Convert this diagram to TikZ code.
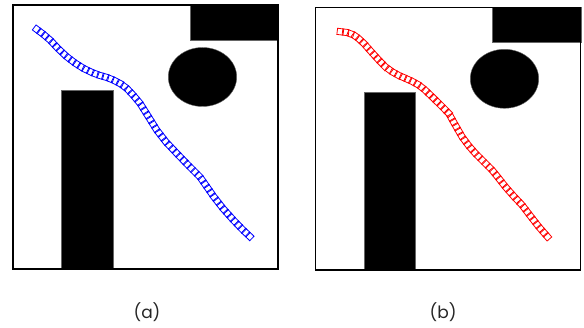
\documentclass[tikz,border=0pt]{standalone}
\usepackage{fontspec}
\setmainfont{Poppins}
\usetikzlibrary{decorations.markings}
\tikzset{
  frame/.style={draw=black, line width=1.4pt},
  obst/.style={fill=black, draw=black!60, line width=0.4pt},
  sqb/.style={draw=blue, line width=0.8pt, minimum size=6.2pt, inner sep=0pt, transform shape},
  sqr/.style={draw=red, line width=0.8pt, minimum size=6.2pt, inner sep=0pt, transform shape},
  chainb/.style={decoration={markings, mark=between positions 0 and 1 step 5.3pt with {\node[sqb] {};}}, decorate},
  chainr/.style={decoration={markings, mark=between positions 0 and 1 step 5.3pt with {\node[sqr] {};}}, decorate},
  lbl/.style={font=\fontsize{17pt}{20pt}\selectfont, text=black!85}
}
\begin{document}
\begin{tikzpicture}[x=1pt, y=-1pt]
\useasboundingbox (0,0) rectangle (584,328);
% panel (a)
\draw[obst] (190,5) rectangle (278,40);
\draw[obst] (202.5,77) ellipse [x radius=34.2, y radius=29.5];
\draw[obst] (60.7,90.3) rectangle (112.7,269);
\draw[frame] (13,5) rectangle (278,269);
\path[chainb] (36.7,29.3) -- (43,34) -- (50,40) -- (58,48.5) -- (66.7,56.7) -- (75,63) -- (83.3,68.3) -- (92,72.5) -- (100,75.5) -- (107,77.5) -- (113.3,80) -- (120,83.5) -- (126.7,88.3) -- (133,95) -- (140,103.3) -- (148,116) -- (156.7,130) -- (166,142) -- (176.7,153.3) -- (188,165) -- (200,177) -- (207,187) -- (214,197) -- (223,208.5) -- (233.3,220) -- (242,229) -- (251.7,238.3);
% panel (b)
\draw[obst] (492,7.3) rectangle (580.7,42.3);
\draw[obst] (504.5,78.8) ellipse [x radius=34.2, y radius=29.5];
\draw[obst] (363.7,92.3) rectangle (415.3,270);
\draw[frame] (315.3,7.3) rectangle (580.7,270);
\path[chainr] (340.3,31.7) -- (347,32.5) -- (353.7,35) -- (358.5,38.5) -- (363.7,43.3) -- (371,51.5) -- (378.7,60) -- (385,66.5) -- (392,71.7) -- (398.5,75.3) -- (405.3,78.3) -- (412,81.3) -- (418.7,85) -- (425,90) -- (432,96.7) -- (440,104.5) -- (448.7,113.3) -- (455,124.5) -- (462,136.7) -- (468.5,145.5) -- (475.3,153.3) -- (483.5,161.5) -- (492,170) -- (498.5,178) -- (505.3,186.7) -- (513.5,196) -- (522,205) -- (530,215.5) -- (538.7,226.7) -- (550.3,240);
% labels
\node[lbl] (la) at (147,312.5) {(a)};
\node[lbl] (lb) at (443,312.5) {(b)};
\end{tikzpicture}
\end{document}
